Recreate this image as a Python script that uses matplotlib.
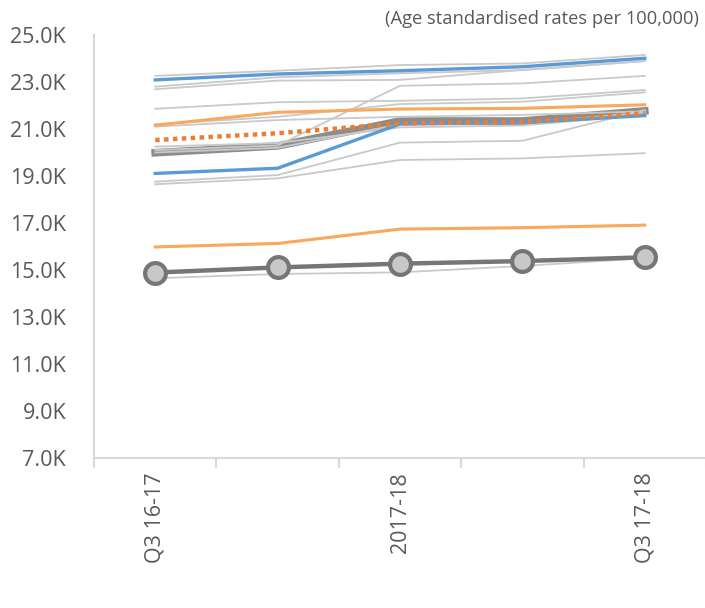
import matplotlib
matplotlib.use("Agg")
import matplotlib.pyplot as plt
import numpy as np

plt.rcParams['font.family'] = ['Open Sans', 'DejaVu Sans']

categories = ["Q3 16-17", "Q4 16-17", "2017-18", "Q1 17-18", "Q3 17-18"]
shown_labels = ["Q3 16-17", "", "2017-18", "", "Q3 17-18"]

# Values in thousands (rates per 100,000)
gray_series = [
    [23.26, 23.48, 23.72, 23.79, 24.15],
    [22.80, 23.20, 23.37, 23.51, 23.89],
    [22.69, 23.06, 23.09, 23.51, 23.89],
    [20.10, 20.30, 22.84, 22.94, 23.26],
    [21.86, 22.14, 22.20, 22.30, 22.66],
    [21.20, 21.52, 22.06, 22.16, 22.56],
    [21.10, 21.38, 21.52, 21.60, 21.75],
    [20.25, 20.40, 21.07, 21.15, 21.60],
    [20.00, 20.20, 21.20, 21.25, 21.70],
    [18.76, 19.04, 20.42, 20.50, 21.81],
    [18.65, 18.90, 19.68, 19.75, 19.97],
    [14.65, 14.83, 14.90, 15.17, 15.50],
]
thick_gray = [19.99, 20.28, 21.34, 21.34, 21.77]
blue_top = [23.09, 23.34, 23.48, 23.65, 24.01]
blue_low = [19.11, 19.33, 21.21, 21.27, 21.57]
orange_top = [21.16, 21.71, 21.85, 21.88, 22.03]
orange_low = [15.98, 16.13, 16.74, 16.80, 16.91]
orange_dotted = [20.53, 20.82, 21.24, 21.30, 21.67]
marker_line = [14.89, 15.11, 15.27, 15.38, 15.54]

yticks = [7, 9, 11, 13, 15, 17, 19, 21, 23, 25]

fig = plt.figure(figsize=(7.05, 6.08), dpi=100)
ax = fig.add_axes([94/705, 1-458/608, 612/705, (458-35)/608])

x = np.arange(len(categories))

ax.plot(x, thick_gray, color='#8c8c8c', lw=5.5, solid_joinstyle='miter', zorder=2)
for s in gray_series:
    ax.plot(x, s, color='#c9c9c9', lw=1.3, zorder=3)
ax.plot(x, orange_top, color='#f9a85e', lw=2.2, zorder=4)
ax.plot(x, orange_low, color='#f9a85e', lw=2.2, zorder=4)
ax.plot(x, blue_top, color='#5b9bd5', lw=2.4, zorder=5)
ax.plot(x, blue_low, color='#5b9bd5', lw=2.4, zorder=5)
ax.plot(x, orange_dotted, color='#ed7d31', lw=3.2, linestyle=(0, (1, 1)), zorder=6)
ax.plot(x, marker_line, color='#767676', lw=3.2, marker='o', markersize=15,
        markerfacecolor='#c8c8c8', markeredgecolor='#767676', markeredgewidth=3, zorder=7)

ax.set_xlim(-0.5, 4.5)
ax.set_ylim(7, 25)
ax.set_yticks(yticks)
ax.set_yticklabels([f"{v:.1f}K" for v in yticks])
ax.set_xticks(x)
ax.set_xticklabels(shown_labels, rotation=90)
ax.set_xticks(np.arange(-0.5, 5, 1), minor=True)
ax.tick_params(axis='x', which='major', length=0, pad=10, labelsize=15.5, labelcolor='#595959')
ax.tick_params(axis='x', which='minor', length=7, width=1.5, color='#d9d9d9', direction='out')
ax.tick_params(axis='y', which='major', length=0, pad=20, labelsize=15.5, labelcolor='#595959')

for sp in ['top', 'right']:
    ax.spines[sp].set_visible(False)
for sp in ['left', 'bottom']:
    ax.spines[sp].set_color('#d9d9d9')
    ax.spines[sp].set_linewidth(1.5)

fig.text(699/705, 1-19/608, "(Age standardised rates per 100,000)", ha='right', va='center',
         fontsize=13.2, color='#595959')

fig.savefig("out.png", dpi=100)
